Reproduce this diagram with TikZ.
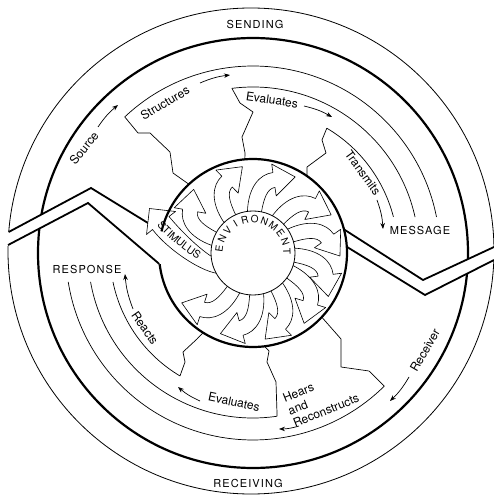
\documentclass[tikz,border=0pt]{standalone}
\usepackage{fontspec}
\setmainfont{TeX Gyre Heros}
\usepackage{tikz}
\usetikzlibrary{arrows.meta, calc, decorations.text}
\newcommand{\capfont}{\fontsize{11}{13}\selectfont\addfontfeature{LetterSpace=10}}
\newcommand{\stimfont}{\fontsize{10.5}{12}\selectfont\addfontfeature{LetterSpace=10}}
\tikzstyle{rim} = [line width=2.2pt]
\tikzstyle{seam} = [line width=1.8pt, line join=miter]
\tikzstyle{lane} = [line width=0.7pt, line join=round]
\tikzstyle{flow} = [line width=0.7pt, -{Stealth[length=6pt,width=4.5pt]}, bend left=8]
\tikzstyle{word} = [font=\fontsize{12}{13.5}\selectfont, inner sep=0pt]
\tikzstyle{capword} = [font=\capfont, inner sep=0pt]
\tikzstyle{vane} = [line width=0.6pt, fill=white, line join=round]
\tikzstyle{envletter} = [font=\fontsize{10}{10}\selectfont, inner sep=0pt]

\begin{document}
\begin{tikzpicture}[x=1pt, y=1pt]
  \useasboundingbox (0,0) rectangle (494,499);
  \coordinate (C) at (253,246);
  \coordinate (O) at (251,248);

  \draw[line width=0.8pt] (O) circle[radius=243];
  \draw[rim] (C) circle[radius=215];

  % strip between sending and receiving
  \fill[white] (0,262.2) -- (91,311) -- (161.5,267.7) -- (344,269.6) -- (423,219) -- (494,252)
    -- (494,239) -- (425,204) -- (346.8,252.2) -- (159.7,234.7) -- (88,296) -- (0,249.2) -- cycle;
  \draw[seam] (8.7,267) -- (91,311) -- (161.5,267.7);
  \draw[seam] (8.1,254) -- (88,296) -- (159.7,234.7);
  \draw[seam] (344,269.6) -- (423,219) -- (494,252);
  \draw[seam] (346.8,252.2) -- (425,204) -- (494,239);

  % sending lanes
  \draw[lane] ($(C)+(133.3:187)$) -- (138,366) -- (150,366) -- (170,347) -- (173,326) -- ($(C)+(133:94)$);
  \draw[lane] ($(C)+(133.3:187)$) arc[start angle=133.3, end angle=11.1, radius=187];
  \draw[lane] ($(C)+(97.3:166)$) -- (240,396) -- (253,387) -- (242,362) -- (245,346) -- ($(C)+(95:94)$);
  \draw[lane] ($(C)+(97.3:166)$) arc[start angle=97.3, end angle=12.5, radius=166];
  \draw[lane] ($(C)+(59.4:145)$) -- (322,359) -- (326,346) -- (307,332) -- ($(C)+(55:94)$);
  \draw[lane] ($(C)+(59.4:145)$) arc[start angle=59.4, end angle=14.4, radius=145];

  % receiving lanes
  \draw[lane] ($(C)+(-45.4:187)$) -- (369,128) -- (341,132) -- (341,160) -- ($(C)+(-43:94)$);
  \draw[lane] ($(C)+(-45.4:187)$) arc[start angle=-45.4, end angle=-171.1, radius=187];
  \draw[lane] ($(C)+(-81.6:165)$) -- (276,117) -- (267,137) -- (269,148) -- ($(C)+(-83:94)$);
  \draw[lane] ($(C)+(-81.6:165)$) arc[start angle=-81.6, end angle=-169.9, radius=165];
  \draw[lane] ($(C)+(-120.7:143)$) -- (185,137) -- (183,147) -- (197,160) -- ($(C)+(-122:94)$);
  \draw[lane] ($(C)+(-120.7:143)$) arc[start angle=-120.7, end angle=-168.3, radius=143];

  % environment
  \fill[white] (C) circle[radius=94];
  \foreach \a in {160,124,88,53,25,-3,-27,-55,-85,-118}
    \draw[vane, shift={(C)}, rotate=\a-90] (7,36) -- (7,41.4) .. controls (9,55) and (12,65) .. (19.7,66.3)
      -- (21.2,57.9) -- (39.5,77.5) -- (15.6,89.5) -- (17.1,81.1) .. controls (4,79) and (-7,66) .. (-7,41.4)
      -- (-7,36) -- cycle;
  \draw[vane] ($(C)+(213:38)$) .. controls (204,225) and (168,249) .. (152.5,269.5) -- (146.5,264.5)
    -- (149.5,290.5) -- (175.5,287.5) -- (169,282.5) .. controls (181,268) and (200,249) .. ($(C)+(189:38)$) -- cycle;
  \path[decorate, decoration={text along path, text={|\stimfont|STIMULUS}}]
    (157,273.6) .. controls (173,255.1) and (203.5,233.3) .. (219.2,229.9);
  \draw[line width=0.8pt, fill=white] (C) circle[radius=42];
  \foreach \ch [count=\i] in {E,N,V,I,R,O,N,M,E,N,T}
    \node[envletter, rotate={172-17*(\i-1)-90}] (env\i) at ($(C)+({172-17*(\i-1)}:34)$) {\ch};
  \draw[rim] ($(C)+(166.7:94)$) arc[start angle=166.7, end angle=-173.1, radius=94];

  % labels
  \node[capword] (sending) at (255,475) {SENDING};
  \node[capword] (receiving) at (248,16) {RECEIVING};
  \node[capword] (message) at (420,269) {MESSAGE};
  \node[capword] (response) at (87,230) {RESPONSE};
  \node[word, rotate=51] (source) at (84,351) {Source};
  \node[word, rotate=31] (structures) at (165,396) {Structures};
  \node[word, rotate=-8] (evalsend) at (272,399) {Evaluates};
  \node[word, rotate=-54] (transmits) at (363,326) {Transmits};
  \node[word, rotate=60] (receiver) at (425,149) {Receiver};
  \node[word, rotate=22, align=left] (hears) at (321,101) {Hears\\and\\Reconstructs};
  \node[word, rotate=-12] (evalrecv) at (234,97) {Evaluates};
  \node[word, rotate=-55] (reacts) at (145,171) {Reacts};

  % flow arrows
  \coordinate (srcT) at (98,372);    \coordinate (srcH) at (118,394);
  \coordinate (strT) at (200,416);   \coordinate (strH) at (230,424);
  \coordinate (evsT) at (304,393);   \coordinate (evsH) at (332,382);
  \coordinate (traT) at (377,299);   \coordinate (traH) at (383,270);
  \coordinate (recT) at (409,122);   \coordinate (recH) at (390,98);
  \coordinate (heaT) at (299,73);    \coordinate (heaH) at (279,70);
  \coordinate (evrT) at (200,98);    \coordinate (evrH) at (178,112);
  \coordinate (reaT) at (133,190);   \coordinate (reaH) at (125,225);
  \draw[flow] (srcT) to (srcH);
  \draw[flow] (strT) to (strH);
  \draw[flow] (evsT) to (evsH);
  \draw[flow] (traT) to (traH);
  \draw[flow] (recT) to (recH);
  \draw[flow] (heaT) to (heaH);
  \draw[flow] (evrT) to (evrH);
  \draw[flow] (reaT) to (reaH);
\end{tikzpicture}
\end{document}
